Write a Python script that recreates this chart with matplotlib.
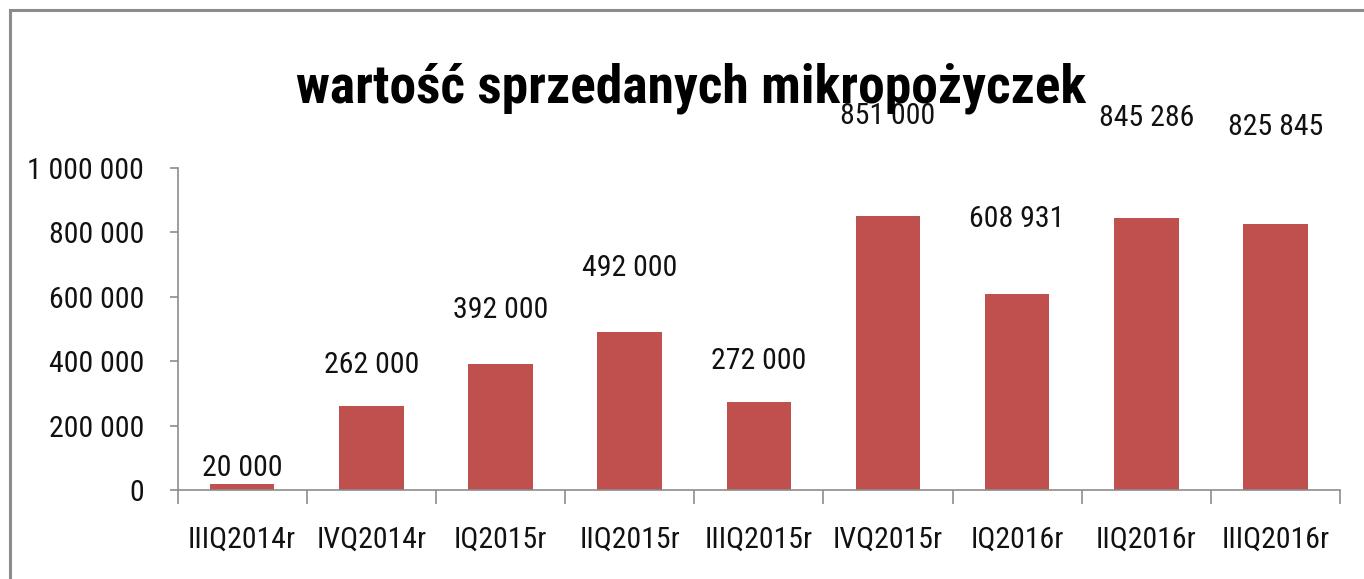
import matplotlib.pyplot as plt
import matplotlib.font_manager as fm
from matplotlib.patches import Rectangle
from matplotlib.ticker import FixedLocator, FuncFormatter
import numpy as np

quarters = ['IIIQ2014r', 'IVQ2014r', 'IQ2015r', 'IIQ2015r', 'IIIQ2015r',
            'IVQ2015r', 'IQ2016r', 'IIQ2016r', 'IIIQ2016r']
values = [20000, 262000, 392000, 492000, 272000, 851000, 608931, 845286, 825845]
title = 'wartość sprzedanych mikropożyczek'

# narrow font if there is one, else Liberation Sans
names = {f.name for f in fm.fontManager.ttflist}
font = 'Liberation Sans'
for cand in ['Liberation Sans Narrow', 'Roboto Condensed', 'Open Sans Condensed']:
    if cand in names:
        font = cand
        break
plt.rcParams['font.family'] = [font, 'DejaVu Sans']
narrow = font != 'Liberation Sans'
fs = 21.5 if narrow else 18.5
fs_title = 38.5 if narrow else 33

def fmt(v, pos=None):
    return f'{int(v):,}'.replace(',', ' ')

fig = plt.figure(figsize=(13.64, 5.79), dpi=100)
ax = fig.add_axes([177.6 / 1364, 1 - 490 / 579, (1340 - 177.6) / 1364, 322 / 579])

# outer frame of the chart object
fig.patches.append(Rectangle((10 / 1364, -0.1), 1.2, 1.1 - 10 / 579, transform=fig.transFigure,
                             fill=False, edgecolor='#8c8c8c', linewidth=2.2))

x = np.arange(len(quarters))
ax.bar(x, values, width=0.5, color='#C0504D')

# data labels
for xi, v in zip(x, values):
    ax.text(xi, 42000 + 1.3155 * v, fmt(v), ha='center', va='center',
            fontsize=fs, color='#111111', clip_on=False)

ax.set_xlim(-0.5, len(quarters) - 0.5)
ax.set_ylim(0, 1000000)
ax.set_yticks(np.arange(0, 1000001, 200000))
ax.yaxis.set_major_formatter(FuncFormatter(fmt))
ax.set_xticks(x)
ax.set_xticklabels(quarters)
ax.xaxis.set_minor_locator(FixedLocator(np.arange(-0.5, len(quarters), 1)))

ax.tick_params(axis='y', length=6, width=1.2, color='#8c8c8c', pad=18,
               labelsize=fs, labelcolor='#111111')
ax.tick_params(axis='x', which='major', length=0, pad=26,
               labelsize=fs, labelcolor='#111111')
ax.tick_params(axis='x', which='minor', length=10, width=1.2, color='#8c8c8c')

for s in ['top', 'right']:
    ax.spines[s].set_visible(False)
for s in ['left', 'bottom']:
    ax.spines[s].set_color('#8c8c8c')
    ax.spines[s].set_linewidth(1.2)

fig.text(0.507, 1 - 103 / 579, title, ha='center', va='baseline',
         fontsize=fs_title, fontweight='bold', color='black')

plt.savefig('out.png', dpi=100)
